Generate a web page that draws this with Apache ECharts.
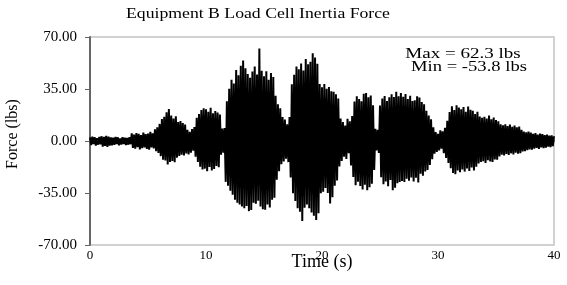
<!DOCTYPE html>
<html>
<head>
<meta charset="utf-8">
<script src="https://cdn.jsdelivr.net/npm/echarts@6/dist/echarts.min.js"></script>
<style>
html, body { margin: 0; padding: 0; background: #fff; }
#chart { width: 567px; height: 285px; }
</style>
</head>
<body>
<div id="chart"></div>
<script>
// sample step of the force record (s)
var dt = 0.1;
// force readings, one row per second
var force = [
	2.4,-2.8,3.0,-2.1,2.6,-3.1,1.9,-2.5,2.8,-2.2,
	3.2,-3.8,2.7,-3.3,3.5,-4.0,2.9,-3.1,2.4,-2.9,
	2.2,-2.6,2.8,-2.0,2.5,-2.9,1.8,-2.4,2.6,-2.1,
	2.3,-2.7,2.0,-2.5,2.6,-2.2,5.1,-4.6,4.3,-5.2,
	5.4,-4.1,4.8,-5.6,3.9,-4.9,5.7,-4.3,4.6,-5.3,
	5.0,-5.8,6.1,-4.4,5.2,-5.0,7.8,-6.9,9.2,-8.1,
	11.5,-10.2,14.8,-12.6,16.3,-13.1,19.4,-15.8,21.6,-14.2,
	17.2,-13.5,15.1,-14.3,16.6,-11.2,12.8,-10.1,13.4,-9.2,
	12.1,-9.8,11.0,-8.4,7.6,-9.1,6.2,-7.8,8.1,-6.5,
	9.4,-10.5,15.6,-14.1,18.2,-17.4,20.9,-19.2,22.1,-18.6,
	21.3,-20.3,19.7,-17.5,22.4,-19.8,18.6,-18.9,20.2,-16.8,
	19.1,-17.6,17.9,-9.3,8.4,-7.9,8.8,-27.5,26.8,-30.1,
	35.2,-33.4,41.3,-36.2,38.7,-39.5,47.8,-41.6,44.3,-42.8,
	50.6,-44.1,54.2,-45.3,48.9,-43.8,45.1,-47.2,42.6,-46.4,
	46.7,-41.5,50.1,-42.3,44.8,-40.2,62.3,-44.1,47.2,-45.9,
	43.5,-46.3,46.9,-42.7,41.2,-44.8,45.8,-39.6,43.1,-38.2,
	30.4,-26.1,24.8,-20.3,22.1,-15.6,16.2,-13.8,14.5,-11.9,
	11.3,-14.2,16.1,-24.6,38.2,-35.1,44.6,-40.3,50.2,-45.2,
	48.3,-47.6,52.1,-53.8,47.5,-44.9,55.2,-42.8,51.6,-45.3,
	53.4,-48.2,59.1,-50.3,56.2,-53.1,52.0,-48.6,38.4,-35.2,
	36.1,-34.2,38.3,-31.6,35.2,-35.0,36.4,-42.1,33.5,-37.8,
	33.2,-30.1,31.4,-26.5,28.6,-17.2,15.1,-13.4,12.8,-10.6,
	10.4,-12.1,14.9,-8.3,13.2,-16.5,16.8,-24.2,26.5,-29.8,
	30.1,-27.4,28.2,-30.3,26.7,-32.6,31.8,-29.5,32.3,-33.1,
	29.4,-31.2,30.6,-28.7,24.1,-19.5,8.2,-6.4,7.6,-8.1,
	23.8,-24.4,28.6,-29.1,30.2,-27.3,26.9,-30.4,29.5,-26.2,
	31.4,-33.1,29.6,-31.5,33.2,-28.4,30.1,-27.6,32.3,-26.9,
	29.8,-27.6,31.6,-25.4,28.2,-26.8,30.4,-24.5,26.9,-27.3,
	27.5,-24.8,30.1,-27.9,29.3,-22.1,26.2,-23.4,24.7,-20.6,
	20.3,-19.5,17.2,-16.1,14.6,-12.3,9.2,-8.6,6.1,-7.4,
	4.8,-6.3,7.2,-5.1,6.5,-8.2,8.9,-11.4,13.6,-14.8,
	19.5,-18.4,23.4,-21.6,20.8,-22.3,24.1,-19.8,22.6,-21.1,
	21.4,-19.2,22.8,-20.6,19.6,-18.5,23.2,-20.1,21.0,-17.9,
	20.4,-19.8,18.2,-17.3,19.6,-15.1,16.4,-14.2,15.7,-13.6,
	16.3,-14.8,15.1,-12.9,17.2,-13.7,14.6,-14.1,15.8,-12.4,
	14.1,-12.6,13.2,-10.4,11.3,-9.2,10.6,-9.8,11.2,-8.7,
	10.1,-9.4,11.0,-8.3,9.6,-9.1,10.4,-7.9,9.2,-8.6,
	9.8,-8.2,7.6,-7.1,6.3,-6.8,5.9,-6.2,6.4,-5.7,
	5.6,-5.9,4.8,-5.2,5.3,-4.6,4.4,-5.4,5.0,-4.3,
	4.6,-4.8,3.9,-4.5,4.3,-3.8,3.6,-4.2,3.8,-3.5,
	3.2
];
var yTicks = [-70, -35, 0, 35, 70];
var xTicks = [0, 10, 20, 30, 40];

var points = [];
for (var i = 0; i < force.length; i++) {
	points.push([+(i * dt).toFixed(2), force[i]]);
}
var fmax = Math.max.apply(null, force);
var fmin = Math.min.apply(null, force);

var serif = '"Liberation Serif", "Times New Roman", serif';
var mychart = echarts.init(document.getElementById('chart'), null, { renderer: 'canvas' });

var option = {
	animation : false,
	grid : {
		left : 90,
		right : 13,
		top : 37,
		bottom : 40,
		outerBoundsMode : 'none',
		containLabel : false,
		show : true,
		borderColor : '#c4c4c4',
		borderWidth : 1.5,
		backgroundColor : '#fff'
	},
	xAxis : {
		type : 'value',
		min : xTicks[0],
		max : xTicks[xTicks.length - 1],
		interval : 10,
		name : 'Time (s)',
		nameLocation : 'middle',
		nameGap : 8,
		nameMoveOverlap : false,
		nameTextStyle : { fontFamily : serif, fontSize : 18, color : '#000' },
		axisLine : { lineStyle : { color : '#777', width : 2 } },
		axisTick : { show : false },
		splitLine : { show : false },
		axisLabel : { fontFamily : serif, fontSize : 13, color : '#000', margin : 4 }
	},
	yAxis : {
		type : 'value',
		min : yTicks[0],
		max : yTicks[yTicks.length - 1],
		interval : 35,
		name : 'Force (lbs)',
		nameLocation : 'middle',
		nameGap : 69,
		nameMoveOverlap : false,
		nameTextStyle : { fontFamily : serif, fontSize : 16, color : '#000', padding : [0, 0, 0, 14] },
		axisLine : { show : true, lineStyle : { color : '#666', width : 2 } },
		axisTick : { show : true, inside : false, length : 5, lineStyle : { color : '#666', width : 1 } },
		splitLine : { show : false },
		axisLabel : {
			fontFamily : serif, fontSize : 15, color : '#000', margin : 13,
			formatter : function(v) { return v.toFixed(2); }
		}
	},
	graphic : [ {
		type : 'text',
		x : 258,
		y : 14,
		scaleX : 1.18,
		style : {
			text : 'Equipment B Load Cell Inertia Force',
			font : '15px ' + serif,
			fill : '#000',
			align : 'center',
			verticalAlign : 'middle'
		}
	}, {
		type : 'text',
		x : 463,
		y : 54,
		scaleX : 1.27,
		style : {
			text : 'Max = ' + fmax.toFixed(1) + ' lbs',
			font : '15px ' + serif,
			fill : '#000',
			align : 'center',
			verticalAlign : 'middle'
		}
	}, {
		type : 'text',
		x : 469,
		y : 67,
		scaleX : 1.24,
		style : {
			text : 'Min = ' + fmin.toFixed(1) + ' lbs',
			font : '15px ' + serif,
			fill : '#000',
			align : 'center',
			verticalAlign : 'middle'
		}
	} ],
	series : [ {
		type : 'line',
		data : points,
		showSymbol : false,
		symbol : 'none',
		lineStyle : { color : '#000', width : 2 },
		z : 3
	} ]
};
mychart.setOption(option);
</script>
</body>
</html>
